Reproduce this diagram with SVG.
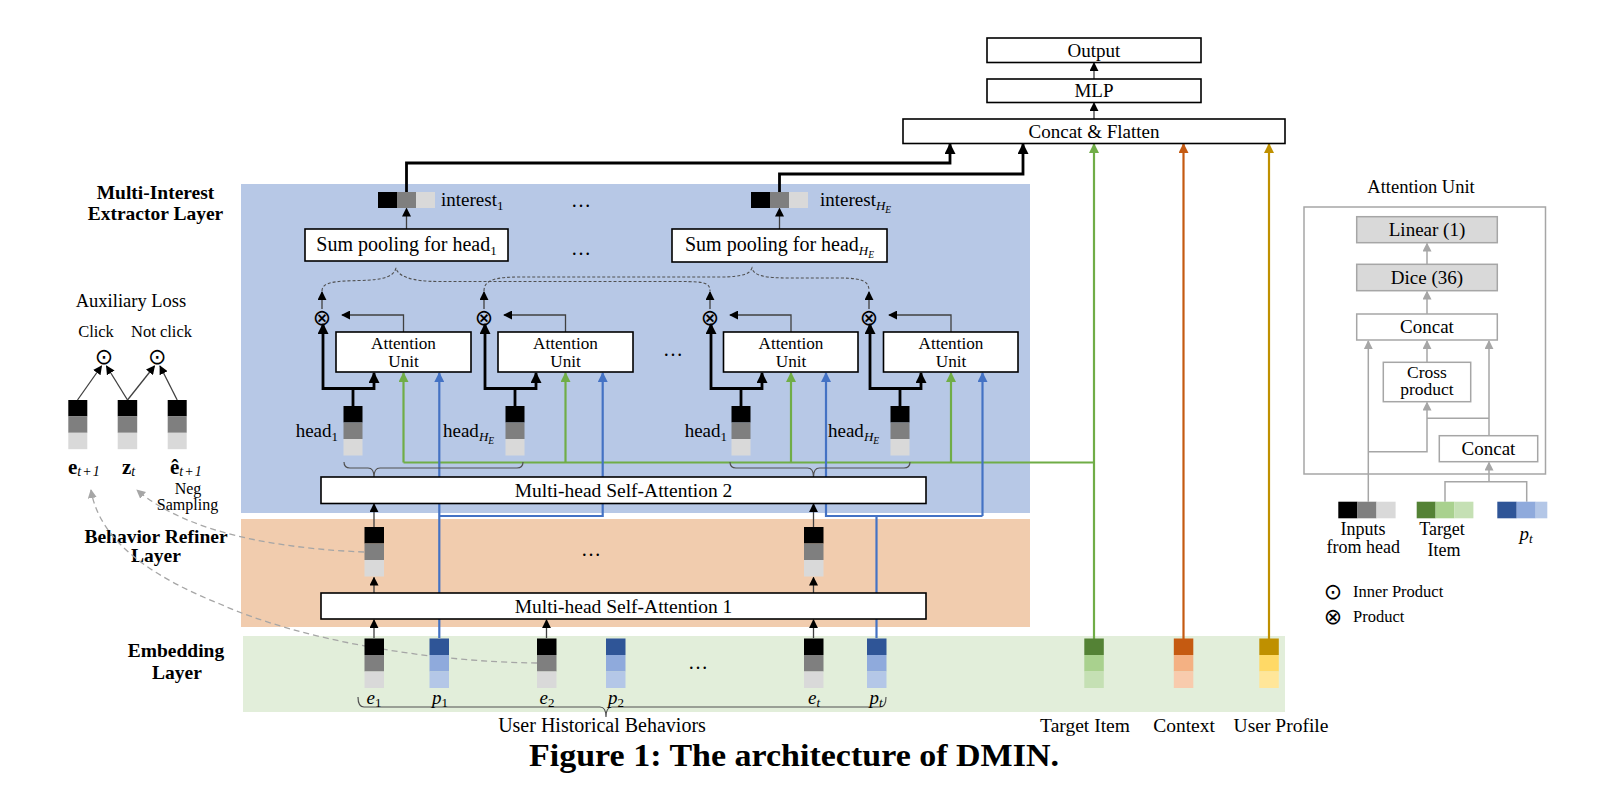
<svg xmlns="http://www.w3.org/2000/svg" width="1604" height="794" viewBox="0 0 1604 794">
<style>
text{font-family:"Liberation Serif","Times New Roman",serif;fill:#000}
.c{text-anchor:middle}
.e{text-anchor:end}
.f19{font-size:19px}
.f195{font-size:19.5px}
.au{font-size:17.2px;text-anchor:middle}
.lbl{font-weight:bold;font-size:19.5px;text-anchor:middle}
.box{fill:#fff;stroke:#000;stroke-width:1.6}
.gbox{fill:#D9D9D9;stroke:#A6A6A6;stroke-width:1.5}
.wbox{fill:#fff;stroke:#A6A6A6;stroke-width:1.5}
.thin{fill:none;stroke:#404040;stroke-width:1.3}
.thick{fill:none;stroke:#000;stroke-width:2.8}
.g{fill:none;stroke:#70AD47;stroke-width:2.2}
.b{fill:none;stroke:#4472C4;stroke-width:2.2}
.o{fill:none;stroke:#C55A11;stroke-width:2.2}
.y{fill:none;stroke:#BF9000;stroke-width:2.2}
.dash{fill:none;stroke:#505050;stroke-width:1.1;stroke-dasharray:3 2}
.gdash{fill:none;stroke:#A6A6A6;stroke-width:1.3;stroke-dasharray:6 4}
.gray{fill:none;stroke:#A6A6A6;stroke-width:1.5}
.brace{fill:none;stroke:#505050;stroke-width:1.2}
.k0{fill:#000}.k1{fill:#7F7F7F}.k2{fill:#D9D9D9}
.b0{fill:#2F5597}.b1{fill:#8FAADC}.b2{fill:#B4C7E7}
.g0{fill:#548235}.g1{fill:#A9D18E}.g2{fill:#C5E0B4}
.o0{fill:#C55A11}.o1{fill:#F4B183}.o2{fill:#F8CBAD}
.y0{fill:#BF9000}.y1{fill:#FFD966}.y2{fill:#FFE699}
.sym{font-family:"DejaVu Sans",sans-serif;font-size:22px;text-anchor:middle;dominant-baseline:central}
.it{font-style:italic}
</style>
<defs>
<marker id="ak" viewBox="0 0 10 10" refX="9" refY="5" markerWidth="9" markerHeight="9" markerUnits="userSpaceOnUse" orient="auto"><path d="M0,0L10,5L0,10z" fill="#000"/></marker>
<marker id="akb" viewBox="0 0 10 10" refX="9" refY="5" markerWidth="11" markerHeight="11" markerUnits="userSpaceOnUse" orient="auto"><path d="M0,0L10,5L0,10z" fill="#000"/></marker>
<marker id="ag" viewBox="0 0 10 10" refX="9" refY="5" markerWidth="10" markerHeight="10" markerUnits="userSpaceOnUse" orient="auto"><path d="M0,0L10,5L0,10z" fill="#70AD47"/></marker>
<marker id="ab" viewBox="0 0 10 10" refX="9" refY="5" markerWidth="10" markerHeight="10" markerUnits="userSpaceOnUse" orient="auto"><path d="M0,0L10,5L0,10z" fill="#4472C4"/></marker>
<marker id="ao" viewBox="0 0 10 10" refX="9" refY="5" markerWidth="10" markerHeight="10" markerUnits="userSpaceOnUse" orient="auto"><path d="M0,0L10,5L0,10z" fill="#C55A11"/></marker>
<marker id="ay" viewBox="0 0 10 10" refX="9" refY="5" markerWidth="10" markerHeight="10" markerUnits="userSpaceOnUse" orient="auto"><path d="M0,0L10,5L0,10z" fill="#BF9000"/></marker>
<marker id="agr" viewBox="0 0 10 10" refX="9" refY="5" markerWidth="9" markerHeight="9" markerUnits="userSpaceOnUse" orient="auto"><path d="M0,0L10,5L0,10z" fill="#A6A6A6"/></marker>
</defs>
<rect width="1604" height="794" fill="#fff"/>

<g id="panels">
<rect x="241" y="184" width="789" height="329" fill="#B7C8E6"/>
<rect x="241" y="519" width="789" height="108" fill="#F1CCAE"/>
<rect x="243" y="636" width="1042" height="76" fill="#E2EEDA"/>
</g>

<g id="layer-labels">
<text class="lbl" x="155.5" y="199">Multi-Interest</text>
<text class="lbl" x="155.5" y="220">Extractor Layer</text>
<text class="lbl" x="156" y="543">Behavior Refiner</text>
<text class="lbl" x="156" y="562">Layer</text>
<text class="lbl" x="176" y="657">Embedding</text>
<text class="lbl" x="177" y="679">Layer</text>
</g>

<g id="connectors">
<path class="thin" d="M1094,79V63" marker-end="url(#ak)"/>
<path class="thin" d="M1094,119V103" marker-end="url(#ak)"/>
<path class="thick" d="M406.5,192V163H950V144" marker-end="url(#akb)"/>
<path class="thick" d="M779.5,192V174H1023V144" marker-end="url(#akb)"/>
<path class="thin" d="M406.5,229V208.5" marker-end="url(#ak)"/>
<path class="thin" d="M779.5,229V208.5" marker-end="url(#ak)"/>
<path class="dash" d="M322,291C322,282 335,281 360,280.5C385,280 394,276 396,268C398,276 410,281.5 440,281.5L680,281.5C705,281.5 710,283 710,291"/>
<path class="dash" d="M484,291C484,280 495,277 520,277L720,277C745,277 750,273 752,268C754,276 765,278 790,278L840,278C864,278 869,282 869,291"/>
<path class="thin" d="M322,309V292" marker-end="url(#ak)"/>
<path class="thin" d="M484,309V292" marker-end="url(#ak)"/>
<path class="thin" d="M710,309V292" marker-end="url(#ak)"/>
<path class="thin" d="M869,309V292" marker-end="url(#ak)"/>
<path class="thin" d="M403.5,332V315H342" marker-end="url(#ak)"/>
<path class="thin" d="M565.5,332V315H504" marker-end="url(#ak)"/>
<path class="thin" d="M791,332V315H730" marker-end="url(#ak)"/>
<path class="thin" d="M951,332V315H889" marker-end="url(#ak)"/>
<path class="thick" d="M353,406V388.5H323V324" marker-end="url(#akb)"/>
<path class="thick" d="M353,388.5H374V373" marker-end="url(#akb)"/>
<path class="thick" d="M515,406V388.5H485V324" marker-end="url(#akb)"/>
<path class="thick" d="M515,388.5H536V373" marker-end="url(#akb)"/>
<path class="thick" d="M741,406V388.5H711V324" marker-end="url(#akb)"/>
<path class="thick" d="M741,388.5H762V373" marker-end="url(#akb)"/>
<path class="thick" d="M900,406V388.5H870V324" marker-end="url(#akb)"/>
<path class="thick" d="M900,388.5H921V373" marker-end="url(#akb)"/>
<path class="g" d="M1094,639V144" marker-end="url(#ag)"/>
<path class="g" d="M403.5,462.5H1094"/>
<path class="g" d="M403.5,462.5V373" marker-end="url(#ag)"/>
<path class="g" d="M565.5,462.5V373" marker-end="url(#ag)"/>
<path class="g" d="M791,462.5V373" marker-end="url(#ag)"/>
<path class="g" d="M951,462.5V373" marker-end="url(#ag)"/>
<path class="b" d="M439.3,638V373" marker-end="url(#ab)"/>
<path class="b" d="M439.3,516H602.7V373" marker-end="url(#ab)"/>
<path class="b" d="M876.5,638V516"/>
<path class="b" d="M982.5,516H826V373" marker-end="url(#ab)"/>
<path class="b" d="M982.5,516V373" marker-end="url(#ab)"/>
<path class="o" d="M1183.5,639V144" marker-end="url(#ao)"/>
<path class="y" d="M1269,639V144" marker-end="url(#ay)"/>
<path class="thin" d="M374,638V620" marker-end="url(#ak)"/>
<path class="thin" d="M546.5,638V620" marker-end="url(#ak)"/>
<path class="thin" d="M813.5,638V620" marker-end="url(#ak)"/>
<path class="thin" d="M374,593V577.5" marker-end="url(#ak)"/>
<path class="thin" d="M813.5,593V577.5" marker-end="url(#ak)"/>
<path class="thin" d="M374,527V504" marker-end="url(#ak)"/>
<path class="thin" d="M813.5,527V504" marker-end="url(#ak)"/>
<path class="brace" d="M344,462Q344,468 350,468L368,468Q374,468 374,477Q374,468 380,468L517,468Q523,468 523,462"/>
<path class="brace" d="M730,462Q730,468 736,468L807.5,468Q813.5,468 813.5,477Q813.5,468 819.5,468L904,468Q910,468 910,462"/>
<path class="brace" d="M358,697Q358,707 364,707L600,707Q606,707 606,717Q606,707 612,707L880,707Q886,707 886,697"/>
<path class="gdash" d="M364,552C290,549 190,536 137,490" marker-end="url(#agr)"/>
<path class="gdash" d="M537,663C430,662 300,640 220,604C160,580 100,545 91,490" marker-end="url(#agr)"/>
<path class="thin" d="M77.5,400L101.5,366" marker-end="url(#ak)"/>
<path class="thin" d="M127.5,400L106.5,366" marker-end="url(#ak)"/>
<path class="thin" d="M127.5,400L154.5,366" marker-end="url(#ak)"/>
<path class="thin" d="M177.2,400L160,366" marker-end="url(#ak)"/>
<path class="gray" d="M1427,264V243.5" marker-end="url(#agr)"/>
<path class="gray" d="M1427,314V291.5" marker-end="url(#agr)"/>
<path class="gray" d="M1427,362V341" marker-end="url(#agr)"/>
<path class="gray" d="M1368.3,501.7V341" marker-end="url(#agr)"/>
<path class="gray" d="M1368.3,451.7H1427V402.5" marker-end="url(#agr)"/>
<path class="gray" d="M1489,435.7V341" marker-end="url(#agr)"/>
<path class="gray" d="M1489,418.3H1427"/>
<path class="gray" d="M1445,501.7V481.7H1526.7V501.7"/>
<path class="gray" d="M1489,481.7V462.5" marker-end="url(#agr)"/>
</g>

<g id="output"><rect class="box" x="987" y="38" width="214" height="24.5"/><text class="c f19" x="1094" y="57">Output</text></g>
<g id="mlp"><rect class="box" x="987" y="79" width="214" height="23.5"/><text class="c f19" x="1094" y="97">MLP</text></g>
<g id="concat-flatten"><rect class="box" x="903" y="119" width="382" height="24.5"/><text class="c f19" x="1094" y="138">Concat &amp; Flatten</text></g>

<g id="interest-1">
<rect class="k0" x="378" y="192" width="19" height="16"/><rect class="k1" x="397" y="192" width="19" height="16"/><rect class="k2" x="416" y="192" width="19" height="16"/>
<text class="f19" x="441" y="206">interest<tspan font-size="13" dy="4">1</tspan></text>
</g>
<g id="interest-HE">
<rect class="k0" x="751" y="192" width="19" height="16"/><rect class="k1" x="770" y="192" width="19" height="16"/><rect class="k2" x="789" y="192" width="19" height="16"/>
<text class="f19" x="820" y="206">interest<tspan class="it" font-size="13" dy="4">H</tspan><tspan class="it" font-size="9.5" dy="3">E</tspan></text>
</g>
<g id="dots-top"><text class="c" font-size="20" x="581" y="207">…</text><text class="c" font-size="20" x="581" y="255">…</text></g>

<g id="sum-pool-1"><rect class="box" x="305" y="229" width="203" height="32"/><text class="c" font-size="20" x="406.5" y="251">Sum pooling for head<tspan font-size="13" dy="4">1</tspan></text></g>
<g id="sum-pool-HE"><rect class="box" x="672" y="229" width="215" height="33"/><text class="c" font-size="20" x="779.5" y="251">Sum pooling for head<tspan class="it" font-size="13" dy="4">H</tspan><tspan class="it" font-size="9.5" dy="3">E</tspan></text></g>

<g id="otimes"><text class="sym" x="322" y="317">⊗</text><text class="sym" x="484" y="317">⊗</text><text class="sym" x="710" y="317">⊗</text><text class="sym" x="869" y="317">⊗</text></g>

<g id="au-1"><rect class="box" x="336" y="332" width="135" height="40"/><text class="au" x="403.5" y="348.5">Attention</text><text class="au" x="403.5" y="367">Unit</text></g>
<g id="au-2"><rect class="box" x="498" y="332" width="135" height="40"/><text class="au" x="565.5" y="348.5">Attention</text><text class="au" x="565.5" y="367">Unit</text></g>
<g id="au-3"><rect class="box" x="723.5" y="332" width="134.5" height="40"/><text class="au" x="791" y="348.5">Attention</text><text class="au" x="791" y="367">Unit</text></g>
<g id="au-4"><rect class="box" x="883.5" y="332" width="134.5" height="40"/><text class="au" x="951" y="348.5">Attention</text><text class="au" x="951" y="367">Unit</text></g>
<g id="dots-au"><text class="c" font-size="20" x="673" y="356">…</text></g>

<g id="head-1a"><rect class="k0" x="343.5" y="406" width="19" height="16.5"/><rect class="k1" x="343.5" y="422.5" width="19" height="16.5"/><rect class="k2" x="343.5" y="439" width="19" height="16.5"/><text class="e f19" x="338" y="437">head<tspan font-size="13" dy="4">1</tspan></text></g>
<g id="head-HEa"><rect class="k0" x="505.5" y="406" width="19" height="16.5"/><rect class="k1" x="505.5" y="422.5" width="19" height="16.5"/><rect class="k2" x="505.5" y="439" width="19" height="16.5"/><text class="f19" x="443" y="437">head<tspan class="it" font-size="13" dy="4">H</tspan><tspan class="it" font-size="9.5" dy="3">E</tspan></text></g>
<g id="head-1b"><rect class="k0" x="731.5" y="406" width="19" height="16.5"/><rect class="k1" x="731.5" y="422.5" width="19" height="16.5"/><rect class="k2" x="731.5" y="439" width="19" height="16.5"/><text class="e f19" x="727" y="437">head<tspan font-size="13" dy="4">1</tspan></text></g>
<g id="head-HEb"><rect class="k0" x="890.5" y="406" width="19" height="16.5"/><rect class="k1" x="890.5" y="422.5" width="19" height="16.5"/><rect class="k2" x="890.5" y="439" width="19" height="16.5"/><text class="f19" x="828" y="437">head<tspan class="it" font-size="13" dy="4">H</tspan><tspan class="it" font-size="9.5" dy="3">E</tspan></text></g>

<g id="mhsa-2"><rect class="box" x="321" y="477" width="605" height="26.5"/><text class="c f195" x="623.5" y="497">Multi-head Self-Attention 2</text></g>
<g id="mhsa-1"><rect class="box" x="321" y="593" width="605" height="26"/><text class="c f195" x="623.5" y="613">Multi-head Self-Attention 1</text></g>

<g id="refined-1"><rect class="k0" x="364.5" y="527" width="19.5" height="16.5"/><rect class="k1" x="364.5" y="543.5" width="19.5" height="16.5"/><rect class="k2" x="364.5" y="560" width="19.5" height="16.5"/></g>
<g id="refined-t"><rect class="k0" x="804" y="527" width="19.5" height="16.5"/><rect class="k1" x="804" y="543.5" width="19.5" height="16.5"/><rect class="k2" x="804" y="560" width="19.5" height="16.5"/></g>
<g id="dots-refiner"><text class="c" font-size="20" x="591" y="556">…</text></g>

<g id="emb-e1"><rect class="k0" x="364.5" y="638.5" width="19.5" height="16.5"/><rect class="k1" x="364.5" y="655" width="19.5" height="16.5"/><rect class="k2" x="364.5" y="671.5" width="19.5" height="16.5"/><text class="c f19" x="374" y="704"><tspan class="it">e</tspan><tspan font-size="13" dy="3">1</tspan></text></g>
<g id="emb-p1"><rect class="b0" x="429.5" y="638.5" width="19.5" height="16.5"/><rect class="b1" x="429.5" y="655" width="19.5" height="16.5"/><rect class="b2" x="429.5" y="671.5" width="19.5" height="16.5"/><text class="c f19" x="440" y="704"><tspan class="it">p</tspan><tspan font-size="13" dy="3">1</tspan></text></g>
<g id="emb-e2"><rect class="k0" x="537" y="638.5" width="19.5" height="16.5"/><rect class="k1" x="537" y="655" width="19.5" height="16.5"/><rect class="k2" x="537" y="671.5" width="19.5" height="16.5"/><text class="c f19" x="547" y="704"><tspan class="it">e</tspan><tspan font-size="13" dy="3">2</tspan></text></g>
<g id="emb-p2"><rect class="b0" x="606" y="638.5" width="19.5" height="16.5"/><rect class="b1" x="606" y="655" width="19.5" height="16.5"/><rect class="b2" x="606" y="671.5" width="19.5" height="16.5"/><text class="c f19" x="616" y="704"><tspan class="it">p</tspan><tspan font-size="13" dy="3">2</tspan></text></g>
<g id="dots-emb"><text class="c" font-size="20" x="698" y="669">…</text></g>
<g id="emb-et"><rect class="k0" x="804" y="638.5" width="19.5" height="16.5"/><rect class="k1" x="804" y="655" width="19.5" height="16.5"/><rect class="k2" x="804" y="671.5" width="19.5" height="16.5"/><text class="c f19" x="814" y="704"><tspan class="it">e</tspan><tspan class="it" font-size="13" dy="3">t</tspan></text></g>
<g id="emb-pt"><rect class="b0" x="867" y="638.5" width="19.5" height="16.5"/><rect class="b1" x="867" y="655" width="19.5" height="16.5"/><rect class="b2" x="867" y="671.5" width="19.5" height="16.5"/><text class="c f19" x="876" y="704"><tspan class="it">p</tspan><tspan class="it" font-size="13" dy="3">t</tspan></text></g>
<g id="emb-target"><rect class="g0" x="1084.3" y="638.5" width="19.5" height="16.5"/><rect class="g1" x="1084.3" y="655" width="19.5" height="16.5"/><rect class="g2" x="1084.3" y="671.5" width="19.5" height="16.5"/></g>
<g id="emb-context"><rect class="o0" x="1173.8" y="638.5" width="19.5" height="16.5"/><rect class="o1" x="1173.8" y="655" width="19.5" height="16.5"/><rect class="o2" x="1173.8" y="671.5" width="19.5" height="16.5"/></g>
<g id="emb-profile"><rect class="y0" x="1259.3" y="638.5" width="19.5" height="16.5"/><rect class="y1" x="1259.3" y="655" width="19.5" height="16.5"/><rect class="y2" x="1259.3" y="671.5" width="19.5" height="16.5"/></g>

<g id="bottom-labels">
<text class="c" font-size="20" x="602" y="732">User Historical Behaviors</text>
<text class="c f195" x="1085" y="732">Target Item</text>
<text class="c f195" x="1184" y="732">Context</text>
<text class="c f195" x="1281" y="732">User Profile</text>
</g>

<g id="aux-loss">
<text class="c" font-size="18.5" x="131" y="307">Auxiliary Loss</text>
<text class="c" font-size="16.5" x="96" y="337">Click</text>
<text class="c" font-size="16.5" x="161.5" y="337">Not click</text>
<text class="sym" x="104" y="356">⊙</text>
<text class="sym" x="157.3" y="356">⊙</text>
<rect class="k0" x="68.3" y="400" width="19" height="16.4"/><rect class="k1" x="68.3" y="416.4" width="19" height="16.4"/><rect class="k2" x="68.3" y="432.8" width="19" height="16.4"/>
<rect class="k0" x="117.7" y="400" width="19.5" height="16.4"/><rect class="k1" x="117.7" y="416.4" width="19.5" height="16.4"/><rect class="k2" x="117.7" y="432.8" width="19.5" height="16.4"/>
<rect class="k0" x="167.7" y="400" width="19" height="16.4"/><rect class="k1" x="167.7" y="416.4" width="19" height="16.4"/><rect class="k2" x="167.7" y="432.8" width="19" height="16.4"/>
<text x="68" y="474" font-size="21" font-weight="bold">e<tspan class="it" font-weight="normal" font-size="14" dy="2" letter-spacing="1">t+1</tspan></text>
<text x="122" y="474" font-size="21" font-weight="bold">z<tspan class="it" font-weight="normal" font-size="14" dy="2">t</tspan></text>
<text x="170" y="474" font-size="21" font-weight="bold">ê<tspan class="it" font-weight="normal" font-size="14" dy="2" letter-spacing="1">t+1</tspan></text>
<text class="c" font-size="16" x="188" y="494">Neg</text>
<text class="c" font-size="16" x="187.5" y="510">Sampling</text>
</g>

<g id="attention-unit-detail">
<text class="c" font-size="18.5" x="1421" y="193">Attention Unit</text>
<rect x="1304" y="207" width="241.5" height="267" fill="none" stroke="#A6A6A6" stroke-width="1.5"/>
<g id="au-linear"><rect class="gbox" x="1356.7" y="216.7" width="140.6" height="26"/><text class="c f19" x="1427" y="236">Linear (1)</text></g>
<g id="au-dice"><rect class="gbox" x="1356.7" y="264.3" width="140.6" height="26.4"/><text class="c f19" x="1427" y="284">Dice (36)</text></g>
<g id="au-concat-top"><rect class="wbox" x="1356.7" y="314" width="140.6" height="26"/><text class="c f19" x="1427" y="333">Concat</text></g>
<g id="au-cross"><rect class="wbox" x="1383.3" y="362.3" width="87.4" height="39.4"/><text class="c" font-size="17.5" x="1427" y="378">Cross</text><text class="c" font-size="17.5" x="1427" y="395">product</text></g>
<g id="au-concat-bottom"><rect class="wbox" x="1439.3" y="435.7" width="98.4" height="26"/><text class="c f19" x="1488.5" y="455">Concat</text></g>
<g id="in-head"><rect class="k0" x="1338.3" y="501.7" width="19.1" height="16.6"/><rect class="k1" x="1357.4" y="501.7" width="19.1" height="16.6"/><rect class="k2" x="1376.5" y="501.7" width="19.1" height="16.6"/>
<text class="c" font-size="18" x="1363" y="535">Inputs</text><text class="c" font-size="18" x="1363.3" y="553">from head</text></g>
<g id="in-target"><rect class="g0" x="1416.7" y="501.7" width="18.9" height="16.6"/><rect class="g1" x="1435.6" y="501.7" width="18.9" height="16.6"/><rect class="g2" x="1454.5" y="501.7" width="18.9" height="16.6"/>
<text class="c" font-size="18" x="1442" y="535">Target</text><text class="c" font-size="18" x="1444" y="556">Item</text></g>
<g id="in-pt"><rect class="b0" x="1497.3" y="501.7" width="19.4" height="16.6"/><rect class="b1" x="1516.7" y="501.7" width="19" height="16.6"/><rect class="b2" x="1535.7" y="501.7" width="11.6" height="16.6"/>
<text class="c f19" x="1526" y="540"><tspan class="it">p</tspan><tspan class="it" font-size="13" dy="3">t</tspan></text></g>
</g>

<g id="legend">
<text class="sym" x="1333" y="591">⊙</text><text font-size="16.5" x="1353" y="596.5">Inner Product</text>
<text class="sym" x="1333" y="616">⊗</text><text font-size="16.5" x="1353" y="621.5">Product</text>
</g>

<g id="caption"><text class="c" font-size="31" font-weight="bold" x="794" y="766" textLength="530" lengthAdjust="spacingAndGlyphs">Figure 1: The architecture of DMIN.</text></g>
</svg>
